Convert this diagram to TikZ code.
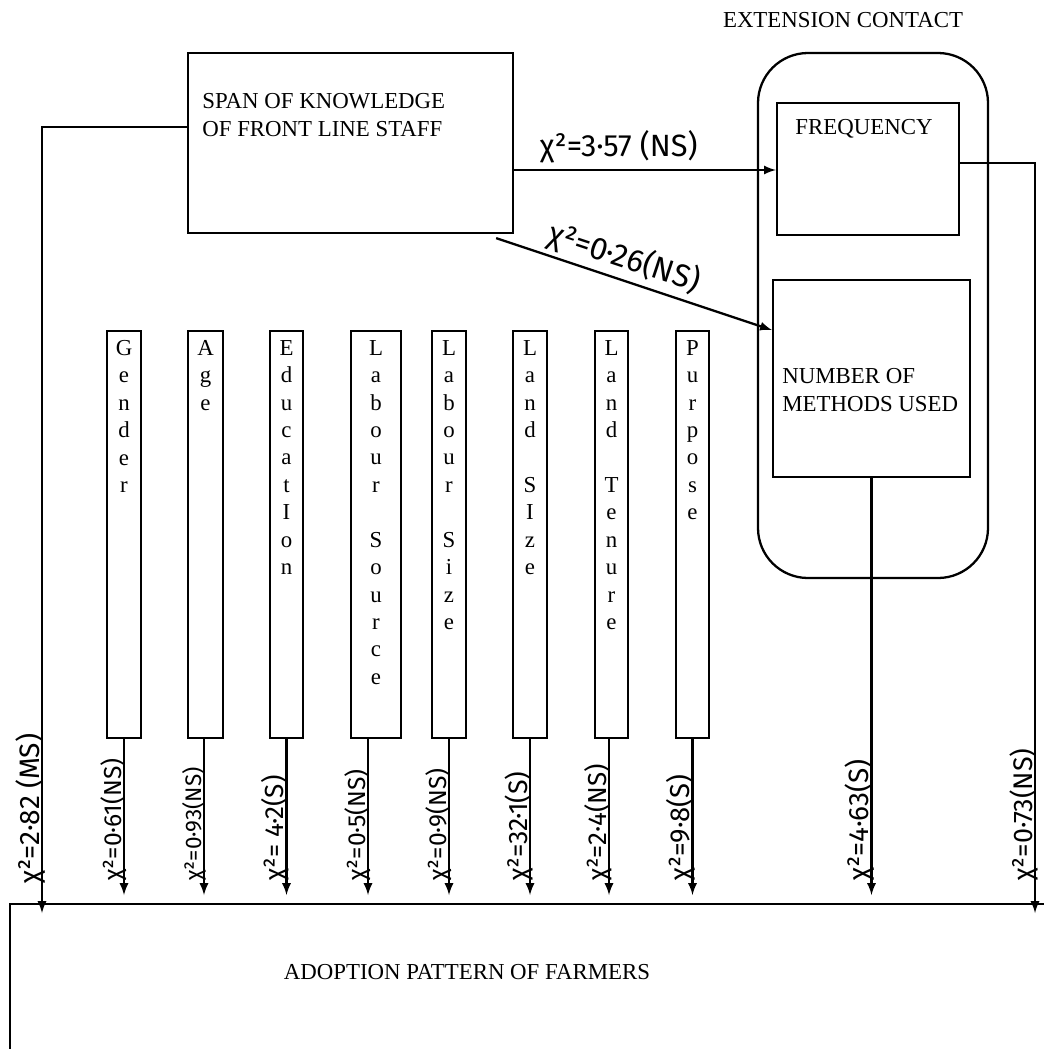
\documentclass[tikz,border=0pt]{standalone}
\usepackage{fontspec}
\setmainfont{Liberation Serif}
\newfontfamily\handfont{Fira Sans}
\usetikzlibrary{calc,positioning}

\tikzset{
  box/.style={draw, line width=1.3pt, inner sep=0pt},
  varbox/.style={box, anchor=north, minimum height=81.4mm},
  vlet/.style={anchor=north, align=center, inner sep=0pt, font=\fontsize{13}{15.6}\selectfont},
  caps/.style={inner sep=0pt, font=\fontsize{13}{15.9}\selectfont},
  chi/.style={inner sep=0pt, font=\handfont\fontsize{#1}{16}\selectfont},
  chi/.default=14,
  conn/.style={line width=1.3pt},
}

\begin{document}
\begin{tikzpicture}[x=0.2mm, y=-0.2mm]
    \useasboundingbox (0,0) rectangle (1044,1049);
    % main boxes
    \node[box, minimum width=65mm, minimum height=36mm] (span) at (350.5,143) {};
    \node[caps, anchor=north west, align=left] (spantxt) at (202,93) {SPAN OF KNOWLEDGE\\OF FRONT LINE STAFF};
    \node[box, rounded corners=10mm, minimum width=46mm, minimum height=105mm] (ext) at (873,315.5) {};
    \node[caps] (exttxt) at (843,20) {EXTENSION CONTACT};
    \node[box, minimum width=36.4mm, minimum height=26.4mm] (freq) at (868,169) {};
    \node[caps] (freqtxt) at (864,129) {FREQUENCY};
    \node[box, minimum width=39.4mm, minimum height=39.4mm] (nmu) at (871.5,378.5) {};
    \node[caps, anchor=north west, align=left] (nmutxt) at (782,368) {NUMBER OF\\METHODS USED};
    % adoption box
    \draw[box] (1044,904) -- (10,904) -- (10,1049);
    \node[caps] (adopt) at (467,972) {ADOPTION PATTERN OF FARMERS};
    \coordinate (adarrow) at (0,895);
    \coordinate (adlab) at (0,881);
    % farmer variables
    \foreach \n/\xc/\w/\dx/\word/\val/\fs in {
      gen/124/6.8/0/{G\\e\\n\\d\\e\\r}/{χ²=0·61(NS)}/14,
      age/205.5/7/-0.3/{A\\g\\e}/{χ²=0·93(NS)}/12.8,
      edu/286.5/6.6/0/{E\\d\\u\\c\\a\\t\\I\\o\\n}/{χ²= 4·2(S)}/14.9,
      lsrc/376/10/-1.6/{L\\a\\b\\o\\u\\r\\~\\S\\o\\u\\r\\c\\e}/{χ²=0·5(NS)}/14,
      lsiz/449/6.8/0/{L\\a\\b\\o\\u\\r\\~\\S\\i\\z\\e}/{χ²=0·9(NS)}/14,
      land/530/6.8/0/{L\\a\\n\\d\\~\\S\\I\\z\\e}/{χ²=32·1(S)}/15.2,
      ten/611.5/6.6/-0.5/{L\\a\\n\\d\\~\\T\\e\\n\\u\\r\\e}/{χ²=2·4(NS)}/14.8,
      purp/692.5/6.6/0/{P\\u\\r\\p\\o\\s\\e}/{χ²=9·8(S)}/15.6}
    {
      \node[varbox, minimum width=\w mm] (\n) at (\xc,330) {};
      \node[vlet] (\n txt) at ([yshift=-2mm]\n.north) {\word};
      \path ([xshift=\dx mm]\n.south) coordinate (\n out);
      \draw[conn,-latex] (\n out) -- (\n out |- adarrow);
      \node[chi=\fs, rotate=90, anchor=base west] (\n val) at ($(\n out |- adlab)+(-3,0)$) {\val};
    }
    % links
    \coordinate (lftend) at (42,913);
    \coordinate (rgtend) at (1035,913);
    \draw[conn,-latex] ($(span.north west)+(0,75)$) -| (lftend);
    \node[chi=16, rotate=90, anchor=base west] (lftval) at (39,884) {χ²=2·82 (MS)};
    \draw[conn,-latex] ($(freq.east)+(0,-6)$) -| (rgtend);
    \node[chi=15.3, rotate=90, anchor=base west] (rgtval) at (1032,881) {χ²=0·73(NS)};
    \draw[conn,-latex] (nmu.south) -- (nmu.south |- adarrow);
    \node[chi=15.9, rotate=90, anchor=base west] (nmuval) at ($(nmu.south |- adlab)+(-3,0)$) {χ²=4·63(S)};
    \draw[conn,-latex] ($(span.east)+(0,27)$) -- ($(freq.west)+(0,1)$)
      node[chi=17.5, above=1.2mm, pos=0.4] (freqval) {χ²=3·57 (NS)};
    \draw[conn,-latex] ($(span.south east)+(-18,4)$) -- ($(nmu.west)+(0,-48.5)$)
      node[chi=18, sloped, above=0.8mm, pos=0.44] (nmudiag) {χ²=0·26(NS)};
\end{tikzpicture}
\end{document}
